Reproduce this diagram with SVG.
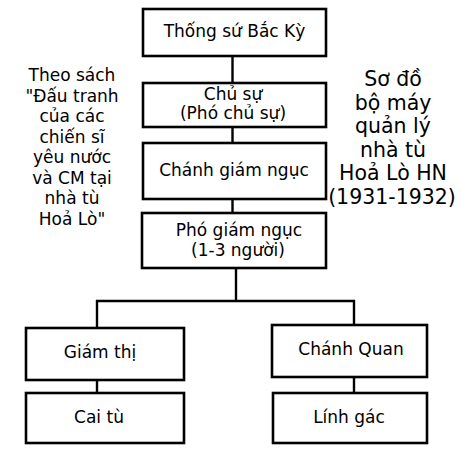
<svg xmlns="http://www.w3.org/2000/svg" width="461" height="449" viewBox="0 0 461 449">
<style>
.box{fill:#fff;stroke:#000;stroke-width:2.6}
.t{font-family:"DejaVu Sans",Verdana,sans-serif;font-size:17px;fill:#000;text-anchor:middle}
.side{font-family:"DejaVu Sans",Verdana,sans-serif;font-size:17px;fill:#000;text-anchor:middle}
.side2{font-family:"DejaVu Sans",Verdana,sans-serif;font-size:20.5px;fill:#000;text-anchor:middle}
.ln{stroke:#000;stroke-width:2.4;fill:none}
</style>
<rect width="461" height="449" fill="#fff"/>
<g id="connectors">
<line class="ln" x1="232.5" y1="56" x2="232.5" y2="83"/>
<line class="ln" x1="232.5" y1="127" x2="232.5" y2="143"/>
<line class="ln" x1="232.5" y1="199" x2="232.5" y2="213"/>
<line class="ln" x1="236" y1="268" x2="236" y2="301"/>
<line class="ln" x1="96" y1="301" x2="355" y2="301"/>
<line class="ln" x1="97" y1="300" x2="97" y2="328"/>
<line class="ln" x1="354" y1="300" x2="354" y2="325"/>
<line class="ln" x1="97" y1="380" x2="97" y2="393"/>
<line class="ln" x1="354" y1="377" x2="354" y2="393"/>
</g>
<g id="note-left">
<text class="side" x="72" y="81">Theo sách</text>
<text class="side" x="72" y="101.5">"Đấu tranh</text>
<text class="side" x="72" y="122">của các</text>
<text class="side" x="72" y="142.5">chiến sĩ</text>
<text class="side" x="72" y="163">yêu nước</text>
<text class="side" x="72" y="183.5">và CM tại</text>
<text class="side" x="72" y="204">nhà tù</text>
<text class="side" x="72" y="224.5">Hoả Lò"</text>
</g>
<g id="note-right">
<text class="side2" x="393" y="86">Sơ đồ</text>
<text class="side2" x="393" y="109.6">bộ máy</text>
<text class="side2" x="393" y="133.2">quản lý</text>
<text class="side2" x="393" y="156.8">nhà tù</text>
<text class="side2" x="393" y="180.4">Hoả Lò HN</text>
<text class="side2" x="392" y="204">(1931-1932)</text>
</g>
<g id="n1">
<rect class="box" x="143" y="9" width="183" height="47"/>
<text class="t" x="234.5" y="37">Thống sứ Bắc Kỳ</text>
</g>
<g id="n2">
<rect class="box" x="143" y="83" width="183" height="44"/>
<text class="t" x="233" y="100">Chủ sự</text>
<text class="t" x="233" y="119">(Phó chủ sự)</text>
</g>
<g id="n3">
<rect class="box" x="143" y="143" width="183" height="56"/>
<text class="t" x="234" y="176">Chánh giám ngục</text>
</g>
<g id="n4">
<rect class="box" x="142" y="213" width="184" height="55"/>
<text class="t" x="239" y="236">Phó giám ngục</text>
<text class="t" x="238" y="256">(1-3 người)</text>
</g>
<g id="n5">
<rect class="box" x="26" y="328" width="158" height="52"/>
<text class="t" x="100" y="358">Giám thị</text>
</g>
<g id="n6">
<rect class="box" x="26" y="393" width="158" height="50"/>
<text class="t" x="99" y="423">Cai tù</text>
</g>
<g id="n7">
<rect class="box" x="272" y="325" width="155" height="52"/>
<text class="t" x="351" y="355">Chánh Quan</text>
</g>
<g id="n8">
<rect class="box" x="273" y="393" width="154" height="50"/>
<text class="t" x="349" y="423">Lính gác</text>
</g>
</svg>
